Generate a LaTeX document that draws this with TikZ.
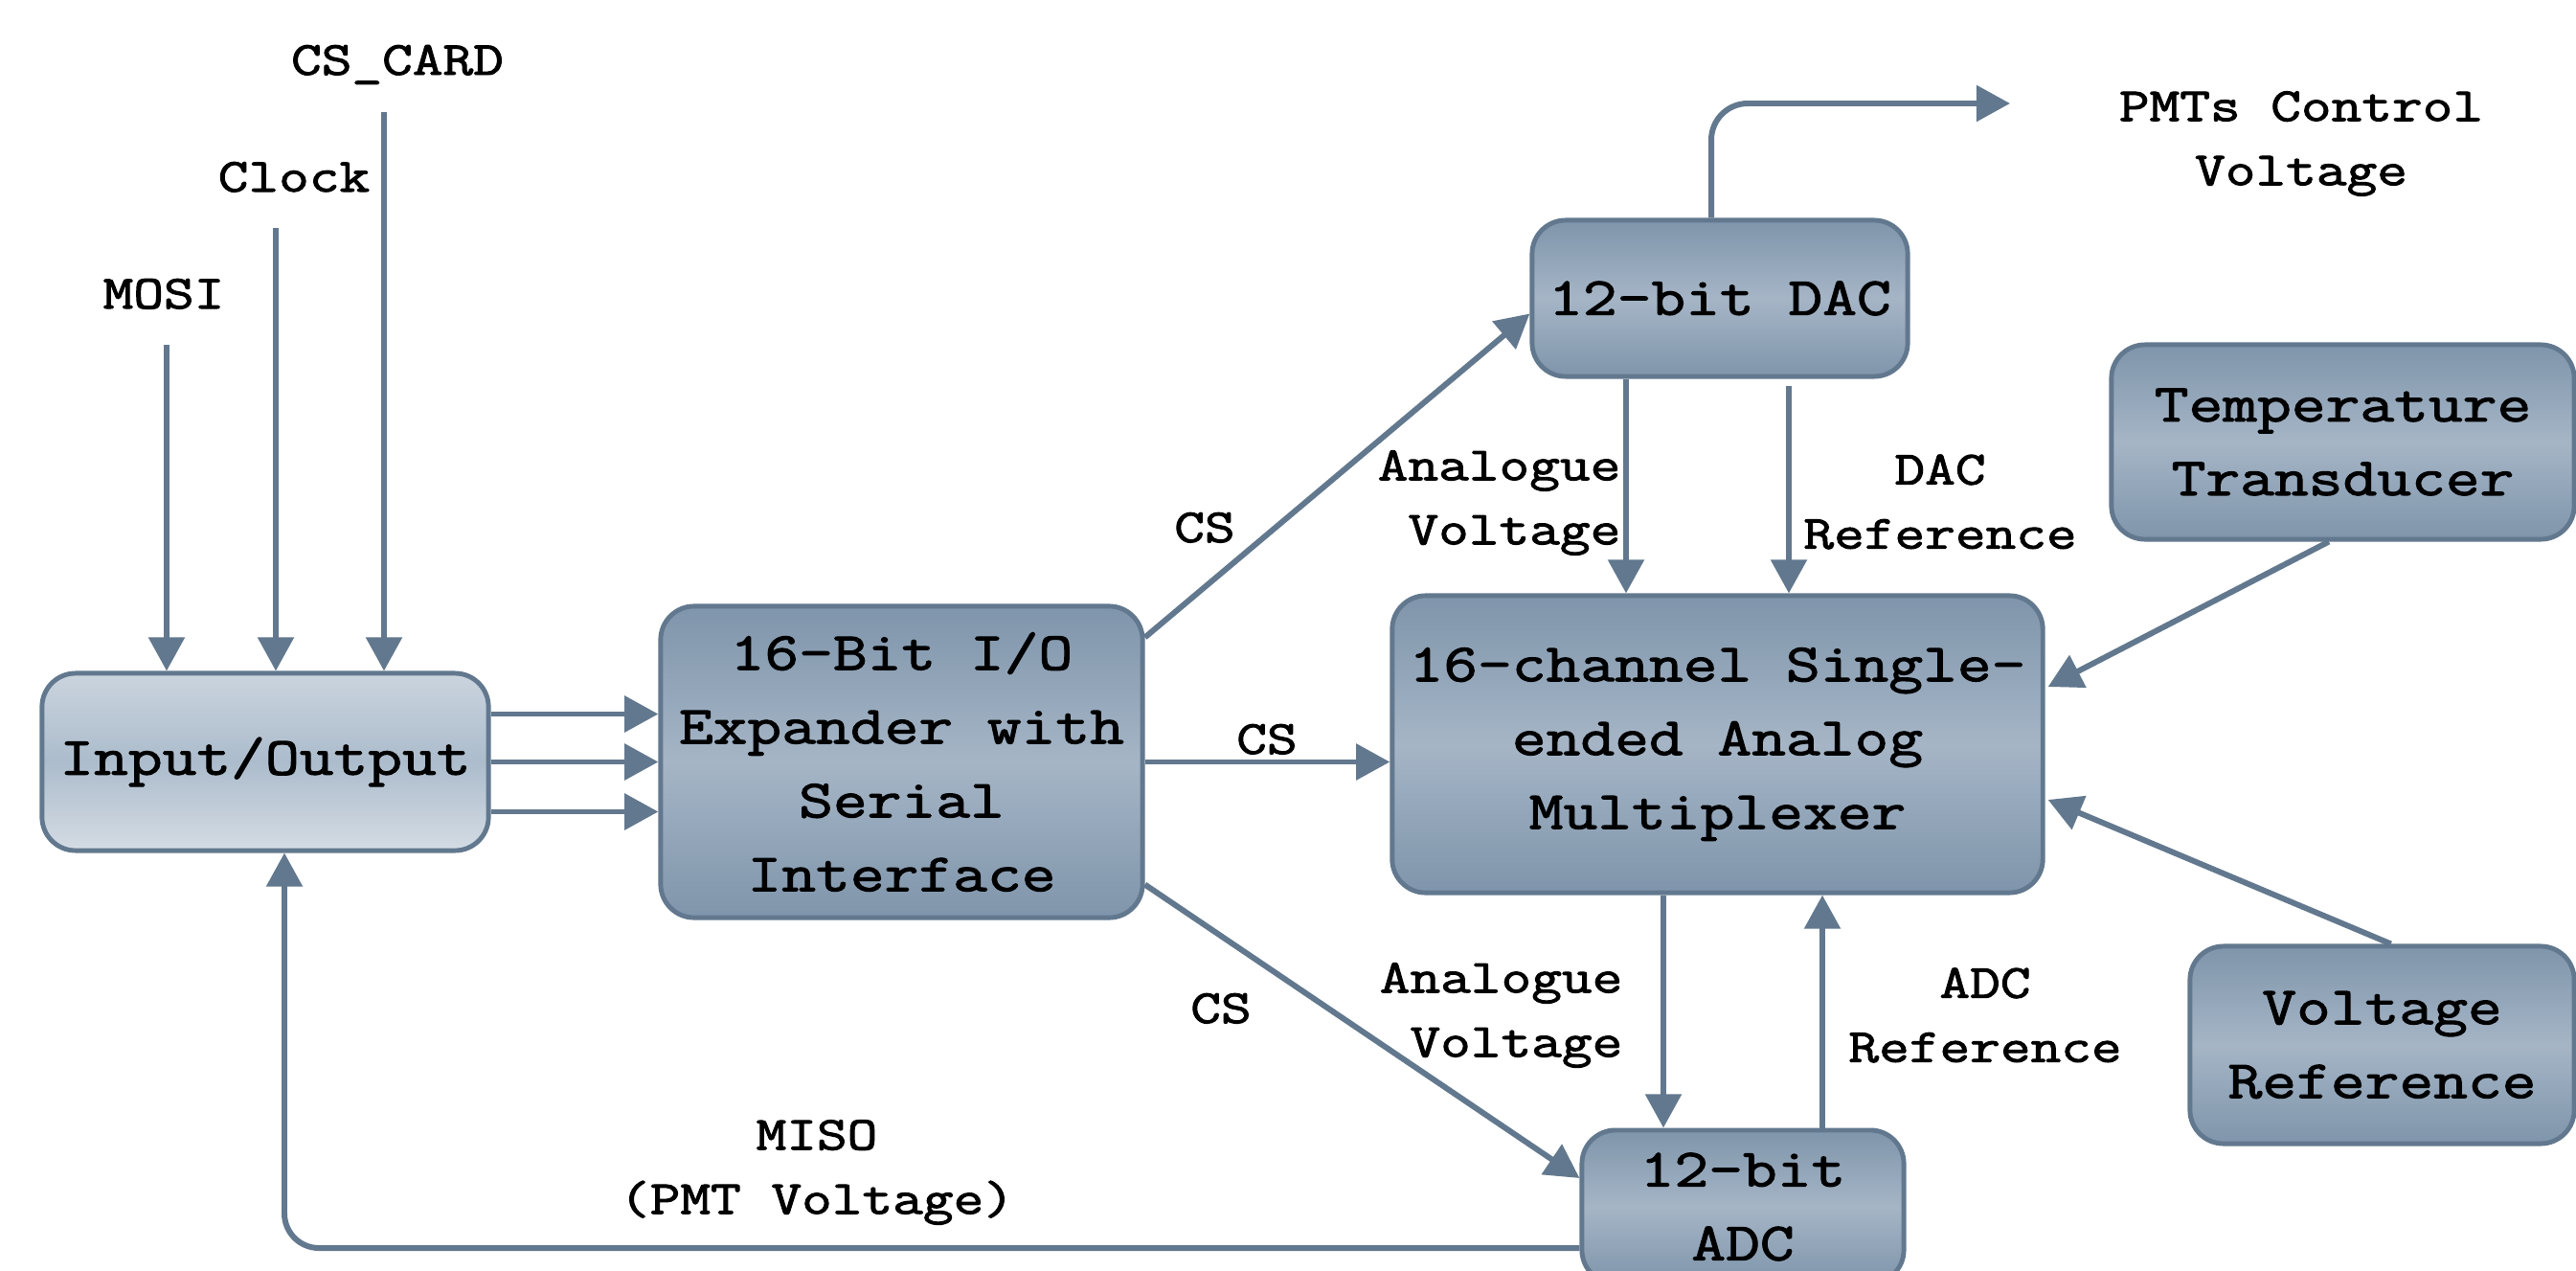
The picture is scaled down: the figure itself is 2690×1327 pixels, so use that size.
\documentclass[tikz,border=0pt]{standalone}
\usepackage{fontspec}
\newfontfamily\cour{Latin Modern Mono}[FakeStretch=1.24, FakeBold=2]
\usetikzlibrary{arrows.meta,calc}
\definecolor{edge}{RGB}{98,120,142}
\definecolor{btop}{RGB}{127,149,171}
\definecolor{bmid}{RGB}{165,181,198}
\definecolor{iotop}{RGB}{202,212,222}
\definecolor{iomid}{RGB}{172,188,204}
\definecolor{iobot}{RGB}{212,220,228}
\begin{document}
\begin{tikzpicture}[x=0.01cm,y=-0.01cm,
  box/.style={draw=edge, line width=1.4pt, rounded corners=0.35cm, top color=btop, bottom color=btop, middle color=bmid, align=center, inner sep=0pt, font=\cour\fontsize{15.93}{21.91}\selectfont},
  iobox/.style={box, top color=iotop, bottom color=iobot, middle color=iomid},
  lbl/.style={font=\cour\fontsize{14.11}{19.06}\selectfont, align=center, inner sep=0pt},
  arr/.style={draw=edge, line width=1.7pt, -{Triangle[width=10.5pt,length=10pt]}}]
\path[use as bounding box] (0,0) rectangle (2690,1327);
\clip (0,0) rectangle (2690,1327);
\fill[white] (0,0) rectangle (2690,1327);

% boxes
\node[iobox, minimum width=4.66cm, minimum height=1.85cm] (io) at (277,795.5) {Input/Output};
\node[box, minimum width=5.03cm, minimum height=3.25cm] (exp) at (941.5,795.5) {16-Bit I/O\\Expander with\\Serial\\Interface};
\node[box, minimum width=3.92cm, minimum height=1.63cm] (dac) at (1796,311.5) {12-bit DAC};
\node[box, minimum width=6.79cm, minimum height=3.10cm] (mux) at (1793.5,777) {16-channel Single-\\ended Analog\\Multiplexer};
\node[box, minimum width=4.83cm, minimum height=2.03cm] (temp) at (2446.5,461.5) {Temperature\\Transducer};
\node[box, minimum width=4.01cm, minimum height=2.06cm] (vref) at (2487.5,1091) {Voltage\\Reference};
\node[box, minimum width=3.36cm, minimum height=1.60cm] (adc) at (1820,1260) {12-bit\\ADC};

% labels
\node[lbl, anchor=base] (lmosi) at (171,322) {MOSI};
\node[lbl, anchor=base] (lclk) at (307,200) {Clock};
\node[lbl, anchor=base] (lcard) at (415,78) {CS\_CARD};
\node[lbl, anchor=base] (lcs1) at (1258,566) {CS};
\node[lbl, anchor=base] (lcs2) at (1323,787) {CS};
\node[lbl, anchor=base] (lcs3) at (1275,1068) {CS};
\node[lbl, align=right, anchor=east] (lav1) at (1693,525) {Analogue\\Voltage};
\node[lbl] (ldr) at (2026,524) {DAC\\Reference};
\node[lbl, align=right, anchor=east] (lav2) at (1695,1060) {Analogue\\Voltage};
\node[lbl] (lar) at (2073,1060) {ADC\\Reference};
\node[lbl] (lpmt) at (2403,150) {PMTs Control\\Voltage};
\node[lbl] (lmiso) at (853,1224) {MISO\\(PMT Voltage)};

% free ends and helper columns
\coordinate (mosiS) at (174,360);
\coordinate (clkS) at (288,238);
\coordinate (cardS) at (401,117);
\coordinate (pmt) at (2099,108);
\coordinate (xav) at (1698,0);
\coordinate (xdr) at (1868,0);
\coordinate (xav2) at (1737,0);
\coordinate (xar) at (1903,0);

% connectors
\draw[arr] (mosiS) -- (mosiS |- io.north);
\draw[arr] (clkS) -- (clkS |- io.north);
\draw[arr] (cardS) -- (cardS |- io.north);

\draw[arr] ($(io.east)+(0,-50)$) -- ($(exp.west)+(0,-50)$);
\draw[arr] (io.east) -- (exp.west);
\draw[arr] ($(io.east)+(0,52)$) -- ($(exp.west)+(0,52)$);

\draw[arr] ($(exp.north east)+(0,35)$) -- ($(dac.west)+(0,16)$);
\draw[arr] (exp.east) -- (exp.east -| mux.west);
\draw[arr] ($(exp.south east)+(0,-37)$) -- ($(adc.west)+(0,-30)$);

\draw[arr, rounded corners=0.38cm] ($(dac.north)+(-9,0)$) |- (pmt);

\draw[arr] (xav |- dac.south) -- (xav |- mux.north);
\draw[arr] ($(xdr |- dac.south)+(0,7)$) -- (xdr |- mux.north);
\draw[arr] (xav2 |- mux.south) -- (xav2 |- adc.north);
\draw[arr] (xar |- adc.north) -- (xar |- mux.south);

\draw[arr] (temp.262) -- ($(mux.east)+(3,-60)$);
\draw[arr] (vref.85) -- ($(mux.east)+(3,58)$);

\draw[arr, rounded corners=0.36cm] ($(adc.west)+(0,43)$) -| ($(io.south)+(20,0)$);
\end{tikzpicture}
\end{document}
